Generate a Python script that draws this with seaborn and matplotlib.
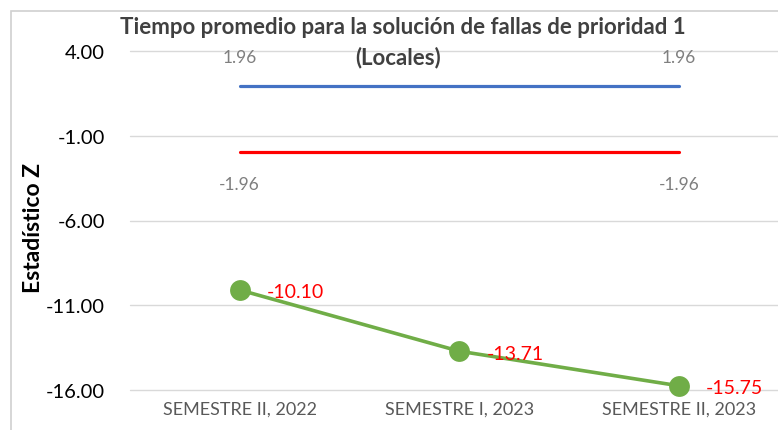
import matplotlib
matplotlib.use("Agg")
import matplotlib.pyplot as plt
import seaborn as sns
import pandas as pd
from matplotlib.patches import Rectangle

categories = ["SEMESTRE II, 2022", "SEMESTRE I, 2023", "SEMESTRE II, 2023"]
z_values = [-10.10, -13.71, -15.75]
upper_limit = [1.96, 1.96, 1.96]
lower_limit = [-1.96, -1.96, -1.96]
y_ticks = [4, -1, -6, -11, -16]

sns.set_theme(style="white")
plt.rcParams['font.family'] = ['Lato', 'DejaVu Sans']

df = pd.DataFrame({"cat": categories, "z": z_values,
                   "up": upper_limit, "low": lower_limit})

fig = plt.figure(figsize=(7.78, 4.31), dpi=100)
ax = fig.add_axes([130 / 778, 1 - 391 / 431, (788.5 - 130) / 778, (391 - 52) / 431])

ax.set_ylim(-16, 4)
ax.set_yticks(y_ticks)
ax.set_yticklabels([f"{v:.2f}" for v in y_ticks], fontsize=14.5, color="black")
ax.yaxis.grid(True, color="#D9D9D9", linewidth=1, clip_on=False)
ax.set_axisbelow(True)

sns.lineplot(data=df, x="cat", y="up", ax=ax, color="#4472C4", linewidth=2.3, sort=False)
sns.lineplot(data=df, x="cat", y="low", ax=ax, color="#FF0000", linewidth=2.3, sort=False)
sns.lineplot(data=df, x="cat", y="z", ax=ax, color="#70AD47", linewidth=2.6, sort=False,
             marker="o", markersize=15, markeredgewidth=0, clip_on=False)
ax.set_xlim(-0.5, 2.5)

# labels for the limits (only first and last)
for i in [0, len(categories) - 1]:
    ax.annotate(f"{upper_limit[i]:.2f}", (i, upper_limit[i]), xytext=(0, 29),
                textcoords="offset pixels", ha="center", va="center",
                fontsize=12.5, color="#7F7F7F")
    ax.annotate(f"{lower_limit[i]:.2f}", (i, lower_limit[i]), xytext=(0, -32),
                textcoords="offset pixels", ha="center", va="center",
                fontsize=12.5, color="#7F7F7F")

for i, v in enumerate(z_values):
    ax.annotate(f"{v:.2f}", (i, v), xytext=(27, -2), textcoords="offset pixels",
                ha="left", va="center", fontsize=14, color="#FF0000")

ax.set_xticks(range(len(categories)))
ax.set_xticklabels(categories, fontsize=13, color="#595959")
ax.tick_params(axis="both", length=0)
ax.tick_params(axis="x", pad=8)
ax.tick_params(axis="y", pad=18)
ax.set_xlabel("")
ax.set_ylabel("")
for s in ax.spines.values():
    s.set_visible(False)

fig.text(34 / 778, 1 - 228 / 431, "Estadístico Z", rotation=90, ha="center",
         va="center", fontsize=16.5, fontweight="bold", color="black")
fig.text(403 / 778, 1 - 28 / 431, "Tiempo promedio para la solución de fallas de prioridad 1",
         ha="center", va="center", fontsize=16, fontweight="bold", color="#404040")
fig.text(398 / 778, 1 - 58 / 431, "(Locales)",
         ha="center", va="center", fontsize=16, fontweight="bold", color="#404040")

# chart area border
fig.patches.append(Rectangle((11 / 778, -0.1), 1.2, 1 - 12 / 431 + 0.1,
                             transform=fig.transFigure, fill=False,
                             edgecolor="#D0D0D0", linewidth=1.2))

fig.savefig("out.png", dpi=100)
